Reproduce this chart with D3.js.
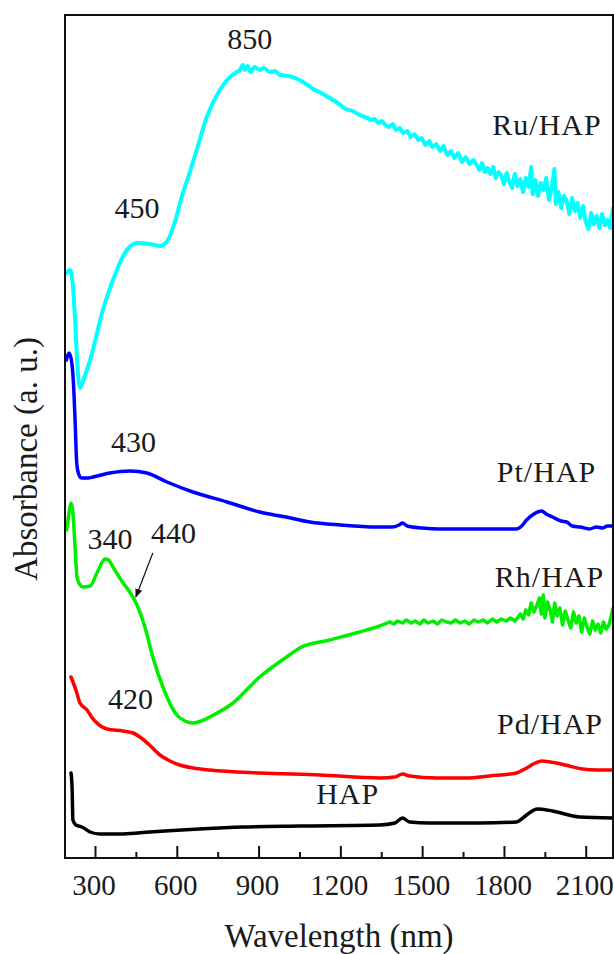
<!DOCTYPE html>
<html>
<head>
<meta charset="utf-8">
<script src="https://cdn.jsdelivr.net/npm/d3@7"></script>
</head>
<body style="margin:0">
<svg id="chart" width="614" height="954" font-family="Liberation Serif" style="font-family: 'Liberation Serif', serif"></svg>
<script>
// UV-Vis-NIR diffuse reflectance spectra, absorbance in arbitrary units (curves offset for clarity)

const ruHAP = [
  [195,5.85],[208,5.88],[218,5.75],[227,5.38],[235,4.95],[245,4.70],[260,4.80],[282,4.98],
  [329,5.48],[366,5.78],[417,6.08],[453,6.15],[501,6.14],[538,6.12],[563,6.16],[593,6.36],
  [619,6.62],[641,6.80],[673,7.08],[710,7.41],[758,7.68],[795,7.81],[820,7.86],[832,7.88],
  [842,7.93],[850,7.88],[860,7.92],[870,7.86],[885,7.91],[904,7.88],[920,7.90],[940,7.86],
  [960,7.87],[978,7.83],[1010,7.82],[1051,7.78],[1080,7.73],[1100,7.69],[1130,7.65],[1161,7.60],
  [1190,7.55],[1220,7.49],[1245,7.47],[1271,7.43],[1300,7.40],[1312,7.38],[1326,7.39],[1338,7.35],
  [1352,7.37],[1366,7.33],[1378,7.31],[1392,7.34],[1404,7.28],[1418,7.30],[1430,7.25],[1446,7.27],
  [1458,7.21],[1472,7.24],[1486,7.18],[1498,7.20],[1512,7.13],[1526,7.17],[1538,7.11],[1552,7.14],
  [1566,7.07],[1578,7.12],[1592,7.03],[1606,7.07],[1618,7.00],[1632,7.05],[1646,6.96],[1660,7.01],
  [1674,6.94],[1688,6.98],[1700,6.93],[1710,6.88],[1720,6.95],[1730,6.86],[1740,6.90],[1750,6.84],
  [1760,6.91],[1770,6.80],[1780,6.86],[1790,6.83],[1800,6.74],[1810,6.85],[1820,6.76],[1830,6.70],
  [1840,6.84],[1850,6.72],[1860,6.79],[1870,6.66],[1880,6.80],[1890,6.71],[1900,6.91],[1905,6.64],
  [1915,6.78],[1925,6.62],[1935,6.75],[1945,6.68],[1955,6.80],[1965,6.58],[1975,6.70],[1985,6.89],
  [1990,6.54],[2000,6.66],[2010,6.50],[2020,6.62],[2030,6.57],[2040,6.44],[2050,6.60],[2060,6.47],
  [2070,6.55],[2080,6.40],[2090,6.52],[2100,6.36],[2110,6.29],[2120,6.45],[2130,6.34],[2140,6.42],
  [2150,6.30],[2160,6.44],[2170,6.33],[2180,6.38],[2190,6.30],[2200,6.50]
];

const ptHAP = [
  [195,4.98],[205,5.05],[215,4.95],[222,4.70],[228,4.30],[233,3.95],[240,3.84],[250,3.80],
  [275,3.80],[293,3.81],[355,3.85],[428,3.87],[490,3.85],[564,3.76],[659,3.66],[784,3.56],
  [904,3.46],[1000,3.41],[1088,3.36],[1200,3.33],[1333,3.31],[1390,3.31],[1415,3.33],[1428,3.35],
  [1445,3.32],[1500,3.30],[1564,3.29],[1700,3.29],[1846,3.29],[1865,3.32],[1883,3.38],[1910,3.44],
  [1938,3.47],[1955,3.44],[1978,3.41],[2010,3.37],[2030,3.36],[2051,3.32],[2080,3.31],[2113,3.29],
  [2140,3.31],[2161,3.30],[2180,3.32],[2200,3.32]
];

const rhHAP = [
  [196,3.28],[205,3.45],[212,3.55],[218,3.48],[223,3.30],[228,3.05],[234,2.81],[245,2.73],
  [256,2.71],[282,2.72],[307,2.85],[337,2.99],[350,2.98],[366,2.91],[403,2.75],[430,2.65],
  [454,2.53],[483,2.31],[512,2.01],[549,1.71],[600,1.43],[630,1.37],[659,1.35],[690,1.37],
  [721,1.41],[806,1.55],[904,1.81],[1003,2.01],[1051,2.10],[1161,2.18],[1271,2.26],[1344,2.32],
  [1381,2.36],[1396,2.34],[1410,2.37],[1428,2.35],[1442,2.38],[1460,2.35],[1474,2.37],[1492,2.34],
  [1506,2.38],[1522,2.35],[1540,2.37],[1556,2.34],[1572,2.38],[1590,2.36],[1606,2.35],[1622,2.38],
  [1640,2.35],[1656,2.37],[1672,2.34],[1690,2.38],[1706,2.36],[1724,2.38],[1740,2.35],[1758,2.39],
  [1774,2.36],[1790,2.39],[1808,2.37],[1824,2.40],[1840,2.37],[1850,2.40],[1860,2.44],[1870,2.39],
  [1880,2.48],[1890,2.43],[1900,2.55],[1910,2.46],[1920,2.52],[1930,2.60],[1937,2.44],[1944,2.63],
  [1950,2.40],[1960,2.56],[1970,2.47],[1978,2.36],[1986,2.55],[1995,2.42],[2005,2.50],[2015,2.33],
  [2025,2.47],[2035,2.38],[2045,2.30],[2055,2.46],[2065,2.35],[2075,2.42],[2085,2.26],[2095,2.40],
  [2105,2.31],[2115,2.24],[2125,2.37],[2135,2.28],[2145,2.34],[2155,2.25],[2165,2.36],[2175,2.29],
  [2185,2.33],[2192,2.40],[2200,2.50]
];

const pdHAP = [
  [212,1.81],[230,1.68],[245,1.55],[271,1.48],[290,1.40],[307,1.35],[344,1.29],[403,1.27],
  [440,1.25],[465,1.21],[500,1.13],[538,1.03],[575,0.97],[611,0.93],[660,0.90],[721,0.88],
  [904,0.85],[1124,0.83],[1344,0.80],[1400,0.81],[1428,0.84],[1454,0.82],[1553,0.80],[1663,0.80],
  [1747,0.82],[1846,0.85],[1883,0.90],[1915,0.95],[1938,0.97],[1992,0.95],[2040,0.92],[2088,0.89],
  [2140,0.88],[2200,0.88]
];

const hap = [
  [212,0.85],[216,0.70],[219,0.38],[230,0.33],[252,0.31],[282,0.26],[318,0.24],[403,0.24],
  [501,0.26],[684,0.29],[842,0.31],[1051,0.32],[1344,0.33],[1400,0.35],[1428,0.40],[1454,0.36],
  [1527,0.35],[1710,0.35],[1846,0.36],[1865,0.39],[1883,0.43],[1923,0.49],[1978,0.47],[2077,0.41],
  [2200,0.40]
];

const seriesNames  = ["Ru/HAP", "Pt/HAP", "Rh/HAP", "Pd/HAP", "HAP"];
const seriesData   = [ruHAP, ptHAP, rhHAP, pdHAP, hap];
const seriesColors = ["#00ffff", "#0000ff", "#00ee00", "#ff0000", "#000000"];
// wavelength beyond which the detector noise is drawn point to point
const noisyFrom    = [1300, Infinity, 1381, Infinity, Infinity];
// where each sample name is written: [wavelength, absorbance]
const nameAnchors  = [[1958,7.23],[1956,3.76],[1967,2.71],[1969,1.24],[1227,0.54]];

// band positions marked on the spectra: [text, wavelength, absorbance]
const bandLabels = [
  ["850", 868, 8.09], ["450", 454, 6.40], ["430", 441, 4.06],
  ["340", 355, 3.09], ["440", 588, 3.15], ["420", 430, 1.49]
];
// arrow pointing at the 440 nm shoulder of Rh/HAP: from -> to
const arrow440 = [[512, 3.05], [450, 2.61]];

const xMajorTicks = [300, 600, 900, 1200, 1500, 1800, 2100];
const xMinorTicks = [450, 750, 1050, 1350, 1650, 1950];
const xDomain = [190, 2200];
const yDomain = [0, 8.43];

const ink = "#1a1a1a";

const svg = d3.select("#chart");
const m = { left: 65, right: 1, top: 15, bottom: 96 };
const W = 614, H = 954;

const x = d3.scaleLinear().domain(xDomain).range([m.left, W - m.right]);
const y = d3.scaleLinear().domain(yDomain).range([H - m.bottom, m.top]);

// every piece of text is set in the same serif face
function serifText(sel, size) {
  return sel
    .attr("font-family", "Liberation Serif")
    .style("font-family", d => '"Liberation Serif"')
    .style("font-size", size + "px")
    .attr("fill", ink);
}

const defs = svg.append("defs");
defs.append("clipPath").attr("id", "plotArea")
  .append("rect")
  .attr("x", m.left).attr("y", m.top)
  .attr("width", W - m.right - m.left).attr("height", H - m.bottom - m.top);

defs.append("marker")
  .attr("id", "arrowHead")
  .attr("viewBox", "0 0 10 10").attr("refX", 9).attr("refY", 5)
  .attr("markerWidth", 9).attr("markerHeight", 9).attr("markerUnits", "userSpaceOnUse")
  .attr("orient", "auto")
  .append("path").attr("d", "M0,1 L10,5 L0,9 Z").attr("fill", "#111");

const smoothLine = d3.line().x(d => x(d[0])).y(d => y(d[1])).curve(d3.curveMonotoneX);
const noisyLine  = d3.line().x(d => x(d[0])).y(d => y(d[1])).curve(d3.curveLinear);

const curves = svg.append("g").attr("clip-path", "url(#plotArea)");
seriesData.forEach((data, i) => {
  const brk = noisyFrom[i];
  const smoothPart = data.filter(d => d[0] <= brk);
  const noisyPart  = data.filter(d => d[0] >= brk);
  const g = curves.append("g")
    .attr("fill", "none")
    .attr("stroke", seriesColors[i])
    .attr("stroke-width", i === 0 ? 4 : 3.5)
    .attr("stroke-linejoin", "round")
    .attr("stroke-linecap", "round");
  g.append("path").datum(smoothPart).attr("d", smoothLine);
  if (noisyPart.length > 1) g.append("path").datum(noisyPart).attr("d", noisyLine);
});

// plot frame
svg.append("rect")
  .attr("x", m.left).attr("y", m.top)
  .attr("width", W - m.right - m.left).attr("height", H - m.bottom - m.top)
  .attr("fill", "none").attr("stroke", "#111").attr("stroke-width", 2);

// bottom axis with inward ticks
const xAxis = d3.axisBottom(x).tickValues(xMajorTicks).tickSize(-12).tickPadding(0).tickFormat(d3.format("d"));
const gx = svg.append("g").attr("transform", `translate(0,${H - m.bottom})`).call(xAxis);
gx.attr("font-family", "Liberation Serif").attr("font-size", 29);
gx.select(".domain").remove();
gx.selectAll(".tick line").attr("stroke", "#111").attr("stroke-width", 2);
serifText(gx.selectAll(".tick text").attr("y", 37).attr("dy", null).attr("dx", -1.5), 29);

const gxMinor = svg.append("g").attr("transform", `translate(0,${H - m.bottom})`)
  .call(d3.axisBottom(x).tickValues(xMinorTicks).tickSize(-6).tickFormat(""));
gxMinor.select(".domain").remove();
gxMinor.selectAll(".tick line").attr("stroke", "#111").attr("stroke-width", 2);

// axis titles
serifText(svg.append("text")
  .attr("x", 339).attr("y", 947)
  .attr("text-anchor", "middle"), 33)
  .text("Wavelength (nm)");

serifText(svg.append("text")
  .attr("transform", "translate(37,459) rotate(-90)")
  .attr("text-anchor", "middle"), 33)
  .text("Absorbance (a. u.)");

// sample names
serifText(svg.append("g").selectAll("text").data(seriesNames).join("text")
  .attr("x", (d, i) => x(nameAnchors[i][0]))
  .attr("y", (d, i) => y(nameAnchors[i][1]))
  .attr("text-anchor", "middle")
  .style("letter-spacing", "1px"), 30)
  .text(d => d);

// band wavelengths
serifText(svg.append("g").selectAll("text").data(bandLabels).join("text")
  .attr("x", d => x(d[1]))
  .attr("y", d => y(d[2]))
  .attr("text-anchor", "middle"), 30)
  .text(d => d[0]);

svg.append("line")
  .attr("x1", x(arrow440[0][0])).attr("y1", y(arrow440[0][1]))
  .attr("x2", x(arrow440[1][0])).attr("y2", y(arrow440[1][1]))
  .attr("stroke", "#111").attr("stroke-width", 1.2)
  .attr("marker-end", "url(#arrowHead)");
</script>
</body>
</html>
